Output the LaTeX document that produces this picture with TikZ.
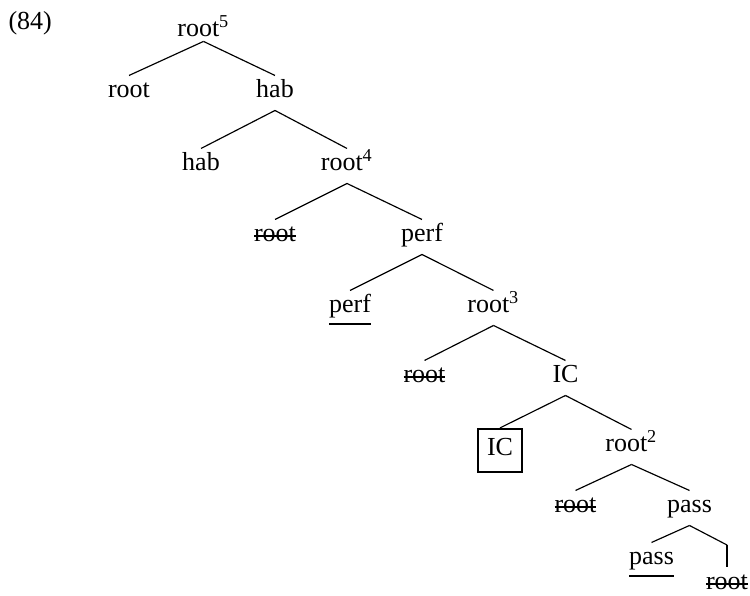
\documentclass[tikz,border=0pt]{standalone}
\usepackage{fontspec}
\setmainfont{Liberation Serif}
\newcommand{\struck}[1]{\setbox0\hbox{#1}\rlap{\rule[1.95pt]{\wd0}{0.9pt}}\box0}
\newcommand{\undl}[1]{\setbox0\hbox{#1}\rlap{\rule[-4.7pt]{\wd0}{0.9pt}}\box0}

\begin{document}
\begin{tikzpicture}[
    x=0.3846pt, y=-0.3846pt,
    word/.style={anchor=base, inner xsep=0pt, inner ysep=0pt, text height=8.46pt, text depth=4.6pt},
    boxed/.style={word, draw, line width=0.8pt, text height=6.8pt, text depth=2.55pt, inner xsep=3.5pt, inner ysep=3.6pt},
    branch/.style={line width=0.45pt},
]
\useasboundingbox (0,0) rectangle (750,596);

% Example number
\node[anchor=base west, inner sep=0pt] (exnum) at (8,30) {(84)};

% Level 0
\node[word, text depth=1.5pt] (root5) at (203.5,37) {root\textsuperscript{5}};

% Level 1
\node[word] (rootA) at (129,98) {root};
\node[word] (habA) at (275,98) {hab};

% Level 2
\node[word] (habB) at (201,171) {hab};
\node[word] (root4) at (347,171) {root\textsuperscript{4}};

% Level 3
\node[word] (rootC) at (275,242) {\struck{root}};
\node[word] (perfC) at (422,242) {perf};

% Level 4
\node[word] (perfD) at (350,313) {\undl{perf}};
\node[word] (root3) at (493.5,313) {root\textsuperscript{3}};

% Level 5
\node[word] (rootE) at (424.5,383) {\struck{root}};
\node[word] (icE) at (565.5,383) {IC};

% Level 6
\node[boxed] (icF) at (500,456) {IC};
\node[word] (root2) at (631.5,452) {root\textsuperscript{2}};

% Level 7
\node[word] (rootG) at (575.5,513) {\struck{root}};
\node[word] (passG) at (689.5,513) {pass};

% Level 8
\node[word] (passH) at (651.5,565) {\undl{pass}};
\node[word] (rootH) at (727,590) {\struck{root}};
\coordinate (kink) at (727,545);

% Branches
\draw[branch] (root5.south) -- (rootA.north);
\draw[branch] (root5.south) -- (habA.north);
\draw[branch] (habA.south) -- (habB.north);
\draw[branch] (habA.south) -- (root4.north);
\draw[branch] (root4.south) -- (rootC.north);
\draw[branch] (root4.south) -- (perfC.north);
\draw[branch] (perfC.south) -- (perfD.north);
\draw[branch] (perfC.south) -- (root3.north);
\draw[branch] (root3.south) -- (rootE.north);
\draw[branch] (root3.south) -- (icE.north);
\draw[branch] (icE.south) -- (icF.north);
\draw[branch] (icE.south) -- (root2.north);
\draw[branch] (root2.south) -- (rootG.north);
\draw[branch] (root2.south) -- (passG.north);
\draw[branch] (passG.south) -- (passH.north);
\draw[branch] (passG.south) -- (kink);
\draw[line width=1.1pt] (kink) -- (rootH.north);
\end{tikzpicture}
\end{document}
